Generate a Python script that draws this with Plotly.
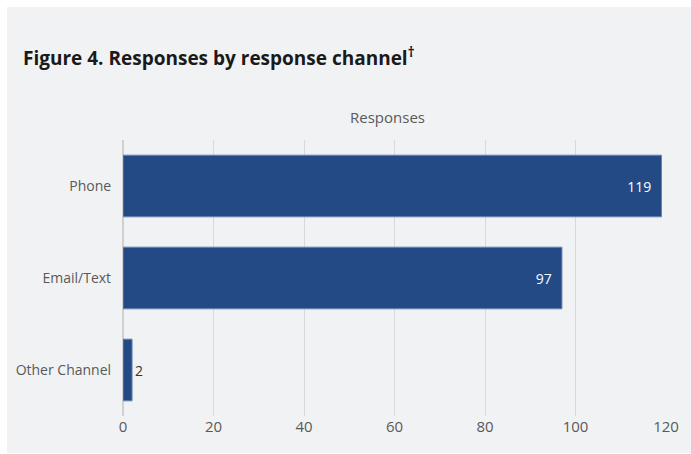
import plotly.graph_objects as go

categories = ["Phone", "Email/Text", "Other Channel"]
responses = [119, 97, 2]
tick_values = [0, 20, 40, 60, 80, 100, 120]

positions = ["inside" if v > 10 else "outside" for v in responses]
labels = [(str(v) + "\u00a0\u00a0") if p == "inside" else str(v)
          for v, p in zip(responses, positions)]

PW = 548
fig = go.Figure()
fig.add_trace(go.Bar(
    y=categories, x=responses, orientation="h",
    marker=dict(color="#234a84", line=dict(color="#6683b5", width=1)),
    width=0.67,
    text=labels,
    textposition=positions,
    insidetextanchor="end",
    outsidetextfont=dict(family="Open Sans", size=14, color="#333333"),
    insidetextfont=dict(family="Open Sans", size=14, color="white"),
    cliponaxis=False,
    hoverinfo="skip",
))

fig.add_shape(type="rect", xref="paper", yref="paper",
              x0=-117/PW, x1=(691-123)/PW + 0.01,
              y0=-(453-416)/276, y1=(416-7)/276,
              fillcolor="#f1f2f4", line=dict(width=0), layer="below")

fig.update_layout(
    width=691, height=454,
    margin=dict(l=123, r=20, t=140, b=38),
    paper_bgcolor="white", plot_bgcolor="rgba(0,0,0,0)",
    showlegend=False,
    font=dict(family="Open Sans", color="#595959", size=14),
    xaxis=dict(range=[0, 120], tickvals=tick_values, showgrid=True,
               gridcolor="#d9d9d9", gridwidth=1, zeroline=True,
               zerolinecolor="#d0d0d0", showline=False, ticks="",
               tickfont=dict(size=15, color="#595959"), fixedrange=True),
    yaxis=dict(categoryorder="array", categoryarray=categories[::-1],
               showgrid=False, ticks="", ticksuffix="\u00a0\u00a0\u00a0",
               tickfont=dict(size=14, color="#595959"), fixedrange=True),
    annotations=[
        dict(text="<b>Figure 4. Responses by response channel<sup>†</sup></b>",
             xref="paper", yref="paper", x=-(123-20)/PW, y=(416-57)/276,
             xanchor="left", yanchor="middle", showarrow=False,
             font=dict(family="Open Sans", size=19, color="#1a1a1a")),
        dict(text="Responses", xref="paper", yref="paper",
             x=(390-123)/PW, y=(416-117)/276, xanchor="center", yanchor="middle",
             showarrow=False, font=dict(family="Open Sans", size=15, color="#595959")),
    ],
)

fig.write_html("out.html")
